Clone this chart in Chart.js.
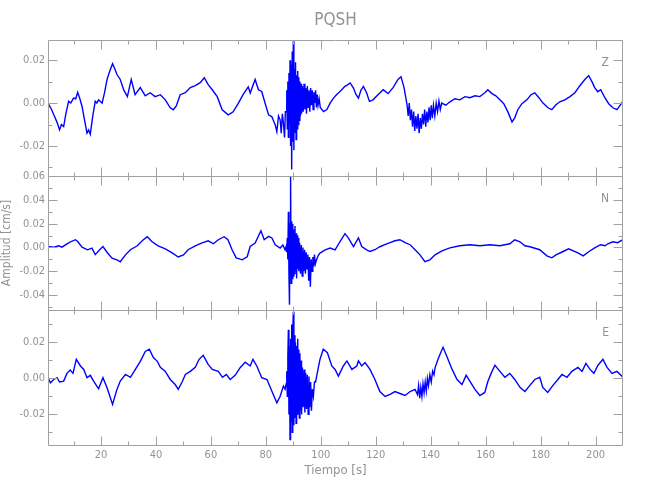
<!DOCTYPE html>
<html><head><meta charset="utf-8">
<script src="https://cdn.jsdelivr.net/npm/chart.js@4.4.1/dist/chart.umd.min.js"></script>
<style>
html,body{margin:0;padding:0;background:#fff;}
#wrap{position:relative;width:650px;height:500px;}
#wrap canvas{position:absolute;left:0;top:0;}
</style></head><body>
<div id="wrap">
<canvas id="cZ" width="650" height="500"></canvas>
<canvas id="cN" width="650" height="500"></canvas>
<canvas id="cE" width="650" height="500"></canvas>
</div>
<script>
// ---------- data ----------
const stationTitle = 'PQSH';
const componentLabels = ['Z', 'N', 'E'];
const xAxisTitle = 'Tiempo [s]';
const yAxisTitle = 'Amplitud [cm/s]';
const timeRange = [0.7, 210];
const xTickLabels = [20, 40, 60, 80, 100, 120, 140, 160, 180, 200];
const yRangeZ = [-0.034, 0.0294];
const yRangeN = [-0.0525, 0.06];
const yRangeE = [-0.037, 0.038];

// [time (s), amplitude (cm/s)]
const traceZ = [
[0.7,0.000],[2.0,-0.003],[3.0,-0.006],[4.0,-0.009],[4.9,-0.0125],[5.6,-0.010],[6.4,-0.011],[7.2,-0.005],[8.2,0.0008],[9.0,0.000],
[10.0,0.0023],[10.8,0.002],[11.5,0.005],[12.3,0.002],[13.1,-0.0016],[14.0,-0.008],[14.9,-0.014],[15.5,-0.0125],[16.1,-0.0145],[17.0,-0.006],
[17.9,0.0008],[18.5,0.000],[19.1,0.0015],[20.4,0.000],[21.3,0.005],[22.2,0.011],[23.2,0.015],[24.2,0.0184],[25.0,0.016],[25.8,0.0133],
[27.0,0.011],[28.3,0.006],[29.6,0.003],[31.0,0.011],[32.4,0.0039],[34.3,0.0072],[36.1,0.0034],[37.9,0.0048],[39.7,0.003],[41.6,0.0039],
[43.4,0.0015],[45.2,-0.0022],[46.3,-0.0031],[47.4,-0.0013],[48.8,0.0039],[50.7,0.0048],[52.5,0.0072],[54.3,0.0081],[56.1,0.0095],[57.6,0.0118],
[59.0,0.0086],[60.5,0.0062],[62.3,0.003],[64.1,-0.0031],[66.3,-0.0055],[68.1,-0.0041],[69.9,-0.0003],[71.7,0.0039],[73.6,0.0076],[74.3,0.0047],
[76.1,0.011],[77.3,0.0062],[78.5,0.0054],[79.7,0.000],[81.0,-0.0055],[82.2,-0.0064],[83.4,-0.0102],[84.0,-0.0133],[84.6,-0.006],[85.2,-0.0078],
[85.6,-0.014],[86.0,-0.005],[86.4,-0.0094],[86.8,-0.016],[87.1,-0.004],
[87.4,-0.004],[87.6,0.006],[87.8,-0.012],[88.0,0.010],[88.2,-0.016],[88.4,0.014],[88.6,-0.010],[88.8,0.020],[89.0,-0.020],[89.2,0.018],
[89.4,-0.031],[89.6,0.024],[89.8,-0.018],[90.0,0.029],[90.2,-0.022],[90.4,0.016],[90.6,-0.014],[90.8,0.019],[91.0,-0.017],[91.2,0.013],
[91.4,-0.012],[91.6,0.015],[91.8,-0.010],[92.0,0.012],[92.2,-0.008],[92.4,0.010],[92.6,-0.006],[92.8,0.009],[93.0,-0.005],[93.3,0.008],
[93.6,-0.004],[93.9,0.009],[94.2,-0.003],[94.5,0.007],[94.8,-0.005],[95.1,0.008],[95.4,-0.002],[95.7,0.006],[96.0,-0.004],[96.3,0.007],
[96.6,-0.001],[96.9,0.006],[97.2,-0.003],[97.5,0.005],[97.8,0.000],[98.1,0.006],[98.4,-0.002],[98.7,0.004],[99.0,-0.001],[99.4,0.002],
[99.8,-0.002],[101.0,-0.004],[102.2,-0.003],[103.4,0.000],[104.6,0.0023],[105.8,0.004],[106.7,0.005],[107.6,0.0062],[108.8,0.0078],[109.7,0.0085],
[110.7,0.0094],[111.9,0.007],[112.8,0.004],[113.7,0.0023],[114.6,0.006],[115.5,0.0078],[116.7,0.0047],[117.7,0.0008],[119.0,0.0015],[120.8,0.0039],
[122.7,0.0062],[124.5,0.0044],[126.3,0.0072],[128.1,0.011],[129.2,0.0123],[130.3,0.0072],[131.4,-0.0008],
[131.8,-0.006],[132.2,0.000],[132.6,-0.008],[133.0,-0.003],[133.4,-0.011],[133.8,-0.004],[134.2,-0.013],[134.6,-0.006],[135.0,-0.012],[135.4,-0.005],
[135.8,-0.014],[136.2,-0.007],[136.6,-0.012],[137.0,-0.005],[137.4,-0.010],[137.8,-0.003],[138.2,-0.011],[138.6,-0.004],[139.0,-0.009],[139.4,-0.002],
[139.8,-0.008],[140.2,-0.001],[140.6,-0.007],[141.0,-0.001],[141.5,-0.006],[142.0,0.000],[142.5,-0.004],[143.0,0.001],[143.5,-0.003],[144.0,0.000],
[145.5,-0.001],[147.0,0.0006],[148.8,0.002],[150.6,0.0015],[152.5,0.003],[154.3,0.0025],[156.1,0.0034],[157.9,0.003],[159.7,0.0048],[160.8,0.0062],
[162.3,0.0044],[163.7,0.0034],[165.2,0.0015],[166.6,-0.0003],[168.1,-0.0041],[169.6,-0.0088],[170.6,-0.0069],[171.7,-0.0031],[173.2,-0.0003],[175.0,0.0015],
[176.5,0.0039],[177.9,0.0048],[179.4,0.0025],[180.8,0.0001],[182.7,-0.0022],[184.1,-0.0031],[185.6,-0.0008],[187.0,0.0006],[188.8,0.0015],[190.7,0.003],
[192.5,0.0048],[194.3,0.0081],[196.1,0.011],[197.5,0.0128],[198.7,0.010],[199.7,0.0072],[200.8,0.0053],[201.9,0.0062],[203.4,0.0025],[204.8,-0.0003],
[206.3,-0.0022],[207.8,-0.0031],[208.8,-0.0013],[209.9,0.0006]
];

const traceN = [
[0.7,0.0008],[2.8,0.0003],[4.6,0.0014],[5.8,0.0003],[7.6,0.003],[9.1,0.005],[10.7,0.0065],[11.5,0.005],[13.1,0.0003],[15.1,-0.002],
[16.7,-0.0005],[17.9,-0.006],[19.5,-0.002],[20.7,0.0008],[22.2,-0.004],[24.0,-0.009],[25.8,-0.0104],[27.0,-0.012],[28.9,-0.0062],[30.7,-0.0019],
[33.2,0.0014],[35.0,0.0056],[36.8,0.009],[38.6,0.0048],[40.8,0.0014],[43.4,-0.0011],[45.9,-0.0045],[48.1,-0.008],[50.0,-0.0062],[51.7,-0.0019],
[54.3,0.0014],[56.8,0.0039],[59.0,0.0056],[60.9,0.0031],[62.7,0.0065],[64.8,0.009],[66.2,0.0065],[67.7,-0.0019],[69.2,-0.0087],[71.4,-0.0104],
[73.2,-0.0078],[74.3,0.0008],[76.1,0.0037],[78.2,0.014],[79.4,0.0065],[81.0,0.0093],[82.2,0.008],[83.4,0.0023],[85.2,-0.0005],[86.2,0.002],
[87.0,-0.002],[87.4,0.001],
[87.6,-0.004],[87.8,0.008],[88.0,-0.010],[88.2,0.030],[88.4,-0.022],[88.6,-0.048],[88.8,0.020],[89.0,0.062],[89.2,-0.030],[89.4,0.022],
[89.6,-0.026],[89.8,0.020],[90.0,-0.024],[90.2,0.015],[90.4,-0.022],[90.6,0.018],[90.8,-0.020],[91.0,0.012],[91.2,-0.026],[91.4,0.010],
[91.6,-0.018],[91.8,0.008],[92.0,-0.020],[92.3,0.004],[92.6,-0.022],[92.9,0.002],[93.2,-0.024],[93.5,0.000],[93.8,-0.020],[94.1,-0.002],
[94.4,-0.022],[94.7,-0.004],[95.0,-0.018],[95.3,-0.006],[95.6,-0.028],[95.9,-0.008],[96.2,-0.033],[96.5,-0.010],[96.8,-0.020],[97.1,-0.008],
[97.4,-0.016],[97.7,-0.006],[98.0,-0.014],[98.5,-0.010],[99.0,-0.007],[99.7,-0.0047],
[101.6,-0.002],[103.4,-0.0005],[105.2,-0.002],[107.0,0.005],[108.8,0.0116],[110.0,0.008],[111.9,0.0008],[113.7,0.008],[114.9,0.0008],[116.7,-0.002],
[117.9,-0.0034],[119.7,-0.0019],[121.5,0.0006],[123.3,0.0023],[125.2,0.004],[127.0,0.0056],[128.8,0.0065],[130.7,0.004],[132.5,0.0023],[134.3,-0.0019],
[136.1,-0.0062],[137.9,-0.012],[139.7,-0.0104],[141.6,-0.0062],[144.1,-0.0028],[147.0,-0.0003],[150.6,0.0014],[154.3,0.0023],[157.9,0.0014],[161.5,0.0023],
[165.2,0.0014],[168.8,0.0031],[170.6,0.0065],[172.5,0.0048],[174.3,0.0014],[176.1,0.0006],[179.7,-0.0019],[182.3,-0.007],[184.1,-0.0087],[185.6,-0.0062],
[188.0,-0.0036],[190.2,-0.0011],[193.6,-0.0045],[195.5,-0.007],[197.5,-0.0036],[199.7,-0.0003],[201.8,0.0023],[203.5,0.0014],[204.5,0.0031],[206.3,0.0048],
[208.0,0.004],[210.0,0.0065]
];

const traceE = [
[0.7,0.0004],[1.6,-0.0024],[2.8,-0.0006],[4.0,0.0004],[4.9,-0.002],[6.4,-0.0015],[7.6,0.0028],[8.8,0.0046],[9.8,0.0028],[11.0,0.0106],
[12.5,0.0069],[13.7,0.005],[14.9,0.0004],[16.1,0.0017],[17.3,-0.0015],[19.1,-0.0058],[20.7,0.0004],[22.2,-0.0052],[24.2,-0.0145],[25.8,-0.0061],
[27.0,-0.0015],[28.9,0.0022],[30.7,0.0006],[32.5,0.005],[34.3,0.0095],[36.1,0.015],[37.6,0.0162],[39.0,0.0117],[40.5,0.0095],[41.6,0.0061],
[43.4,0.0039],[45.2,-0.0006],[47.0,-0.0034],[48.1,-0.0061],[49.6,-0.0017],[50.7,0.0022],[52.5,0.0039],[54.3,0.0061],[55.7,0.0106],[57.2,0.0128],
[59.0,0.0078],[60.5,0.005],[62.7,0.0039],[64.2,0.0006],[65.6,0.0022],[67.0,-0.0006],[68.8,0.0017],[70.7,0.0061],[72.5,0.009],[74.3,0.0069],
[75.3,0.0106],[76.7,0.0069],[78.5,0.0004],[80.4,-0.0006],[82.2,-0.0071],[84.0,-0.0136],[85.2,-0.0099],[86.4,-0.0043],[87.0,-0.006],
[87.4,-0.003],[87.6,0.004],[87.8,-0.010],[88.0,0.012],[88.2,0.027],[88.4,-0.020],[88.6,0.018],[88.8,-0.034],[89.0,0.022],[89.2,-0.024],
[89.4,0.030],[89.6,-0.030],[89.8,0.025],[90.0,0.037],[90.2,-0.026],[90.4,0.024],[90.6,-0.022],[90.8,0.020],[91.0,-0.025],[91.2,0.018],
[91.4,-0.020],[91.6,0.022],[91.8,-0.019],[92.0,0.016],[92.2,-0.022],[92.4,0.014],[92.6,-0.018],[92.8,0.010],[93.0,-0.020],[93.3,0.006],
[93.6,-0.016],[93.9,0.005],[94.2,-0.019],[94.5,0.003],[94.8,-0.017],[95.1,0.002],[95.4,-0.020],[95.7,0.001],[96.0,-0.016],[96.3,-0.002],
[96.6,-0.018],[96.9,-0.006],[97.3,-0.010],[97.7,-0.002],[98.1,-0.002],[98.5,0.0013],[99.1,0.006],[99.7,0.0106],[100.9,0.0162],[102.4,0.0143],
[104.0,0.0069],[105.2,0.005],[106.4,0.0013],[108.2,0.0069],[109.5,0.0097],[111.3,0.005],[113.1,0.0069],[113.7,0.0097],[114.9,0.0069],[116.1,0.0088],
[117.9,0.005],[119.7,-0.0006],[121.5,-0.0073],[123.4,-0.010],[125.2,-0.0089],[127.0,-0.0073],[128.8,-0.0084],[130.7,-0.0095],[132.5,-0.0073],[134.3,-0.0061],
[135.2,-0.009],[135.6,-0.004],[136.0,-0.011],[136.4,-0.005],[136.8,-0.010],[137.2,-0.003],[137.6,-0.008],[138.0,-0.002],[138.4,-0.007],[138.8,0.000],
[139.2,-0.004],[139.7,0.002],[140.2,-0.002],[140.7,0.004],[141.2,0.002],[141.6,0.006],[142.5,0.010],[143.4,0.0134],[144.5,0.0173],[146.0,0.0117],
[147.8,0.005],[149.6,-0.0006],[151.4,-0.0034],[152.9,0.0017],[154.3,-0.0017],[156.1,-0.0061],[157.9,-0.0095],[159.7,-0.0078],[160.8,-0.0017],[162.3,0.0039],
[163.4,0.0073],[165.2,0.0039],[167.0,0.0006],[168.8,0.0028],[170.6,-0.0006],[172.5,-0.005],[174.3,-0.0073],[176.1,-0.0039],[177.9,-0.0006],[179.7,0.0006],
[180.8,-0.005],[182.6,-0.0078],[184.5,-0.0039],[186.3,-0.0006],[187.8,0.0022],[189.6,0.0006],[191.4,0.0039],[193.6,0.0061],[195.1,0.0039],[196.5,0.0083],
[198.0,0.005],[199.4,0.0028],[200.9,0.0073],[202.7,0.0106],[204.2,0.0061],[206.0,0.0028],[207.8,0.0039],[210.0,0.0006]
];

// ---------- styling ----------
const FONT = "'DejaVu Sans Condensed', 'Liberation Sans Narrow', sans-serif";
const TEXT = '#939393';
const AXIS = '#a0a0a0';
const LINE = '#0000ff';

const frameTicks = {
  id: 'frameTicks',
  afterDraw(chart, args, opts) {
    const {ctx, chartArea: a, scales} = chart;
    const x = scales.x, y = scales.y;
    ctx.save();
    ctx.strokeStyle = AXIS;
    ctx.lineWidth = 1;
    const L = Math.round(a.left) + 0.5, R = Math.round(a.right) - 0.5;
    const T = Math.round(a.top) + 0.5, B = Math.round(a.bottom) + 0.5;
    ctx.beginPath();
    ctx.rect(L, T, R - L, B - T);
    x.ticks.forEach(t => {
      const px = Math.round(x.getPixelForValue(t.value)) + 0.5;
      if (px <= L + 1 || px >= R - 1) return;
      const len = (Math.round(t.value) % 20 === 0) ? 9 : 4;
      ctx.moveTo(px, T); ctx.lineTo(px, T + len);
      ctx.moveTo(px, B); ctx.lineTo(px, B - len);
    });
    y.ticks.forEach(t => {
      const py = Math.round(y.getPixelForValue(t.value)) + 0.5;
      if (py <= T + 0.5 || py >= B - 0.5) return;
      const len = (Math.round(t.value * 100) % 2 === 0) ? 9 : 4;
      ctx.moveTo(L, py); ctx.lineTo(L + len, py);
      ctx.moveTo(R, py); ctx.lineTo(R - len, py);
    });
    ctx.stroke();
    if (opts.label) {
      ctx.fillStyle = TEXT;
      ctx.font = '12px ' + FONT;
      ctx.textAlign = 'right';
      ctx.textBaseline = 'alphabetic';
      ctx.fillText(opts.label, a.right - 14, a.top + 26);
    }
    ctx.restore();
  }
};

function yTickLabel(v) {
  const r = Math.round(v * 100);
  if (r % 2 !== 0) return '';
  return (r / 100).toFixed(2);
}

function makeChart(id, trace, yRange, label, pad, opts) {
  const showX = !!opts.showX;
  return new Chart(document.getElementById(id), {
    type: 'line',
    data: {
      datasets: [{
        data: trace.map(p => ({x: p[0], y: p[1]})),
        borderColor: LINE,
        borderWidth: 1.4,
        pointRadius: 0,
        tension: 0,
        fill: false
      }]
    },
    options: {
      responsive: false,
      animation: false,
      devicePixelRatio: 1,
      layout: {padding: pad},
      plugins: {
        legend: {display: false},
        tooltip: {enabled: false},
        title: opts.title ? {
          display: true, text: opts.title, fullSize: false,
          color: TEXT, font: {family: FONT, size: 17, weight: 'normal'},
          padding: {top: 10, bottom: 9.6}
        } : {display: false},
        frameTicks: {label: label}
      },
      scales: {
        x: {
          type: 'linear',
          display: showX,
          min: timeRange[0], max: timeRange[1],
          grid: {display: false, drawTicks: false},
          border: {display: false},
          ticks: {
            stepSize: 10, autoSkip: false, maxRotation: 0, includeBounds: false,
            color: TEXT, font: {family: FONT, size: 11}, padding: 4,
            callback: v => xTickLabels.includes(Math.round(v)) ? String(Math.round(v)) : ''
          },
          title: {
            display: showX, text: xAxisTitle, color: TEXT,
            font: {family: FONT, size: 13}, padding: {top: 0, bottom: 22}
          },
          afterFit: s => { s.height = showX ? 55 : 0; }
        },
        y: {
          type: 'linear',
          min: yRange[0], max: yRange[1],
          grid: {display: false, drawTicks: false},
          border: {display: false},
          ticks: {
            stepSize: 0.01, autoSkip: false, includeBounds: false,
            color: TEXT, font: {family: FONT, size: 11}, padding: 3,
            callback: yTickLabel
          },
          title: {
            display: !!opts.yTitle, text: yAxisTitle, color: TEXT,
            font: {family: FONT, size: 12}, padding: {top: 0, bottom: 0}
          },
          afterFit: s => { s.width = 48; }
        }
      }
    },
    plugins: [frameTicks]
  });
}

makeChart('cZ', traceZ, yRangeZ, componentLabels[0], {top: 0, left: 0, right: 27, bottom: 324}, {title: stationTitle});
makeChart('cN', traceN, yRangeN, componentLabels[1], {top: 176, left: 0, right: 27, bottom: 190}, {yTitle: true});
makeChart('cE', traceE, yRangeE, componentLabels[2], {top: 310, left: 0, right: 27, bottom: 0}, {showX: true});
</script>
</body></html>
